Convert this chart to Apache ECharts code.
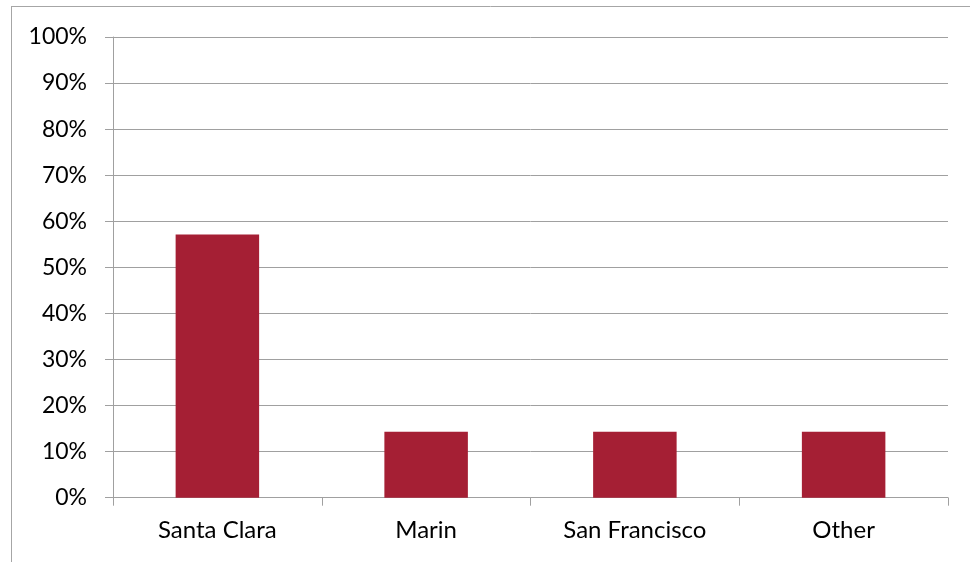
<!DOCTYPE html>
<html>
<head>
<meta charset="utf-8">
<script src="https://cdn.jsdelivr.net/npm/echarts@6/dist/echarts.min.js"></script>
<style>
html,body{margin:0;padding:0;background:#fff;}
#chart{width:970px;height:562px;}
</style>
</head>
<body>
<div id="chart"></div>
<script>
const categories = ["Santa Clara", "Marin", "San Francisco", "Other"];
const values = [57.14, 14.29, 14.29, 14.29];
const yTicks = [0, 10, 20, 30, 40, 50, 60, 70, 80, 90, 100];

const chart = echarts.init(document.getElementById('chart'), null, {renderer: 'canvas'});
const gray = '#a0a0a0';
const font = 'Lato, "Open Sans", sans-serif';
chart.setOption({
  animation: false,
  backgroundColor: '#fff',
  grid: {left: 113, right: 22, top: 37, bottom: 64.3, containLabel: false},
  graphic: [
    {type: 'line', shape: {x1: 11, y1: 6.5, x2: 970, y2: 6.5}, style: {stroke: '#a6a6a6', lineWidth: 1}, silent: true},
    {type: 'line', shape: {x1: 11.5, y1: 6, x2: 11.5, y2: 562}, style: {stroke: '#a6a6a6', lineWidth: 1}, silent: true}
  ],
  xAxis: {
    type: 'category',
    data: categories,
    boundaryGap: true,
    axisLine: {show: true, lineStyle: {color: gray, width: 1}},
    axisTick: {show: true, length: 8, alignWithLabel: false, lineStyle: {color: gray}},
    axisLabel: {color: '#000', fontSize: 24, fontFamily: font, margin: 21, interval: 0},
    splitLine: {show: false}
  },
  yAxis: {
    type: 'value',
    min: yTicks[0],
    max: yTicks[yTicks.length - 1],
    interval: 10,
    axisLine: {show: true, lineStyle: {color: gray, width: 1}},
    axisTick: {show: true, length: 8, lineStyle: {color: gray}},
    axisLabel: {color: '#000', fontSize: 23, fontFamily: font, margin: 26, formatter: v => v + '%'},
    splitLine: {show: true, lineStyle: {color: gray, width: 1}}
  },
  series: [{
    type: 'bar',
    data: values,
    barCategoryGap: '60%',
    itemStyle: {color: '#a51f34'}
  }]
});
</script>
</body>
</html>
